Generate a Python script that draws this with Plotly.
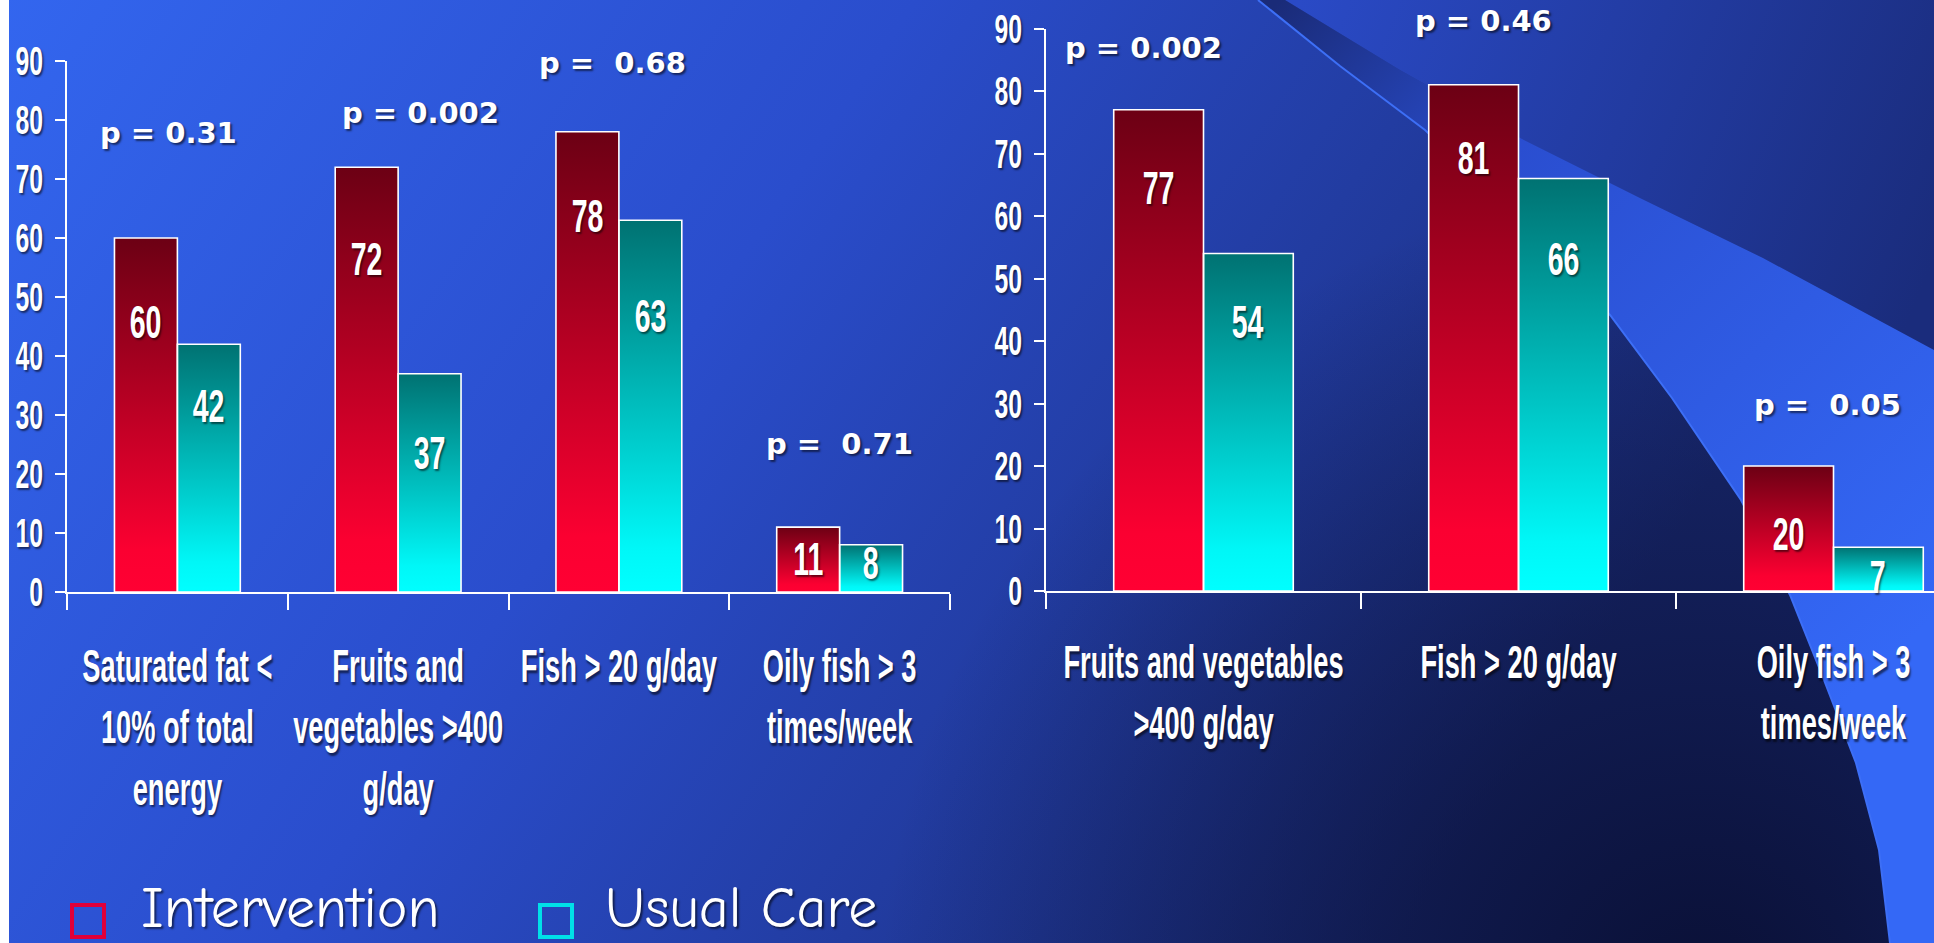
import base64
import plotly.graph_objects as go

# ---------------- data ----------------
left_categories = [
    "Saturated fat &lt;<br>10% of total<br>energy",
    "Fruits and<br>vegetables &gt;400<br>g/day",
    "Fish &gt; 20 g/day",
    "Oily fish &gt; 3<br>times/week",
]
left_intervention = [60, 72, 78, 11]
left_usual_care = [42, 37, 63, 8]
left_p_values = ["p = 0.31", "p = 0.002", "p =  0.68", "p =  0.71"]

right_categories = [
    "Fruits and vegetables<br>&gt;400 g/day",
    "Fish &gt; 20 g/day",
    "Oily fish &gt; 3<br>times/week",
]
right_intervention = [77, 81, 20]
right_usual_care = [54, 66, 7]
right_p_values = ["p = 0.002", "p = 0.46", "p =  0.05"]

y_ticks = [0, 10, 20, 30, 40, 50, 60, 70, 80, 90]
series_names = ["Intervention", "Usual Care"]

# ---------------- styling / placement ----------------
W, H = 1934, 943
NARROW = "Liberation Sans"          # compressed horizontally after rendering (see post_script)
CAT_SIZE, NUM_SIZE, YTICK_SIZE = 47, 46, 40
PFONT = "DejaVu Sans, Verdana, sans-serif"
SHADOW = "2px 2px 2px rgba(0,0,0,0.55)"
BAR_W = 0.285

RED_SCALE = [[0, "#ff0033"], [0.12, "#fb0031"], [1, "#6c0014"]]
TEAL_SCALE = [[0, "#00ffff"], [0.12, "#00f7f7"], [1, "#007272"]]

# p-value label placement (category units, axis units)
left_p_pos = [(-0.04, 77.8), (1.1, 81.2), (1.97, 89.7), (3.0, 25.1)]
right_p_pos = [(-0.19, 86.9), (0.89, 91.2), (1.98, 29.8)]
# heights at which the value labels sit inside the bars
left_label_y = ([45.7, 56.4, 63.8, 5.6], [31.6, 23.6, 46.7, 4.9])
right_label_y = ([64.5, 69.3, 9.2], [43.1, 53.2, 2.2])


def px_x(p):
    return p / W


def px_y(p):
    return 1 - p / H


left_xdom = [px_x(67), px_x(950)]
left_ydom = [px_y(592), px_y(61)]
right_xdom = [px_x(1046), 1.0]
right_ydom = [px_y(591), px_y(28.5)]
left_xr = [-0.5, 3.5]
right_xr = [-0.5, -0.5 + (W - 1046) / 315]

# ---------------- background artwork ----------------
L2 = [(1258, 0), (1340, 66), (1425, 130), (1520, 220), (1610, 315), (1672, 398),
      (1741, 500), (1790, 595), (1824, 680), (1856, 763), (1879, 850), (1890, 943)]
L1 = [(1285, 0), (1400, 70), (1524, 140), (1640, 198), (1763, 258), (1934, 350)]


def poly(points):
    return " ".join(f"L{x},{y}" for x, y in points)


band_path = f"M{L2[0][0]},{L2[0][1]} {poly(L2[1:])} L1934,943 L1934,350 {poly(L1[::-1][1:])} Z"
upper_path = f"M{L1[0][0]},{L1[0][1]} {poly(L1[1:])} L1934,0 Z"
edge_path = f"M{L2[0][0]},{L2[0][1]} {poly(L2[1:])}"

svg = f"""<svg xmlns="http://www.w3.org/2000/svg" width="{W}" height="{H}" viewBox="0 0 {W} {H}" preserveAspectRatio="none">
<defs>
<linearGradient id="base" gradientUnits="userSpaceOnUse" x1="0" y1="0" x2="1400" y2="943">
<stop offset="0" stop-color="#3366ef"/><stop offset="0.45" stop-color="#2a4dcc"/><stop offset="1" stop-color="#1a2b76"/>
</linearGradient>
<radialGradient id="shade" gradientUnits="userSpaceOnUse" cx="1700" cy="1000" r="820">
<stop offset="0" stop-color="#070b2a" stop-opacity="0.85"/><stop offset="1" stop-color="#070b2a" stop-opacity="0"/>
</radialGradient>
<linearGradient id="upper" gradientUnits="userSpaceOnUse" x1="1300" y1="0" x2="1934" y2="260">
<stop offset="0" stop-color="#2a4ac6"/><stop offset="1" stop-color="#1a2c7c"/>
</linearGradient>
<linearGradient id="band" gradientUnits="userSpaceOnUse" x1="1280" y1="0" x2="1900" y2="650">
<stop offset="0" stop-color="#1a2b78"/><stop offset="0.3" stop-color="#2a4ed0"/><stop offset="1" stop-color="#3468f6"/>
</linearGradient>
</defs>
<rect width="{W}" height="{H}" fill="url(#base)"/>
<rect width="{W}" height="{H}" fill="url(#shade)"/>
<path d="{upper_path}" fill="url(#upper)"/>
<path d="{band_path}" fill="url(#band)"/>
<path d="{edge_path}" fill="none" stroke="#3d6ff6" stroke-width="2"/>
<rect width="9" height="{H}" fill="#ffffff"/>
</svg>"""
bg_uri = "data:image/svg+xml;base64," + base64.b64encode(svg.encode()).decode()

# ---------------- figure ----------------
fig = go.Figure()

panels = [
    dict(xa="x", ya="y", xo="x3", yo="y3", cats=left_categories, ydom=left_ydom,
         vals=(left_intervention, left_usual_care), p=left_p_values, ppos=left_p_pos,
         lab=left_label_y),
    dict(xa="x2", ya="y2", xo="x4", yo="y4", cats=right_categories, ydom=right_ydom,
         vals=(right_intervention, right_usual_care), p=right_p_values, ppos=right_p_pos,
         lab=right_label_y),
]

annotations = []
for pnl in panels:
    n = len(pnl["cats"])
    for s, (vals, scale, off) in enumerate(zip(pnl["vals"], (RED_SCALE, TEAL_SCALE), (-BAR_W, 0.0))):
        # gradient body of every bar
        for i, v in enumerate(vals):
            x0, x1 = i + off, i + off + BAR_W
            fig.add_trace(go.Scatter(
                x=[x0, x0, x1, x1, x0], y=[0, v, v, 0, 0], mode="lines", fill="toself",
                fillgradient=dict(type="vertical", colorscale=scale),
                line=dict(width=0), hoverinfo="skip", showlegend=False,
                xaxis=pnl["xa"], yaxis=pnl["ya"]))
        # the bars themselves, outlined in white on top of the gradients
        fig.add_trace(go.Bar(
            x=list(range(n)), y=vals, width=BAR_W, offset=off, name=series_names[s],
            marker=dict(color="rgba(0,0,0,0)", line=dict(color="white", width=1.6)),
            showlegend=False, xaxis=pnl["xo"], yaxis=pnl["yo"]))
        for i, v in enumerate(vals):
            annotations.append(dict(
                x=i + off + BAR_W / 2, y=pnl["lab"][s][i], xref=pnl["xa"], yref=pnl["ya"],
                text=str(v), showarrow=False, xanchor="center", yanchor="middle",
                font=dict(family=NARROW, size=NUM_SIZE, color="white", weight="bold", shadow=SHADOW)))
    d0, d1 = pnl["ydom"]
    for txt, (px, py) in zip(pnl["p"], pnl["ppos"]):
        annotations.append(dict(
            x=px, y=d0 + (d1 - d0) * py / 90, xref=pnl["xa"], yref="paper", text=txt,
            showarrow=False, xanchor="center", yanchor="middle",
            font=dict(family=PFONT, size=29, color="white", weight="bold", shadow=SHADOW)))

# legend drawn as outlined squares with labels along the bottom
legend_items = [
    (series_names[0], "#e0003a", 72, 140),
    (series_names[1], "#00e0e8", 540, 604),
]
shapes = []
for name, col, sx, tx in legend_items:
    shapes.append(dict(type="rect", xref="paper", yref="paper",
                       x0=px_x(sx), x1=px_x(sx + 32), y0=px_y(937), y1=px_y(905),
                       line=dict(color=col, width=4), fillcolor="rgba(0,0,0,0)"))
    annotations.append(dict(x=px_x(tx), y=0, xref="paper", yref="paper", text=name,
                            showarrow=False, xanchor="left", yanchor="bottom", borderpad=0,
                            font=dict(family="Comic Sans MS, Comic Neue, Lato, sans-serif",
                                      size=58, color="white", shadow=SHADOW)))


def x_axis(n, rng, domain, labels, anchor, standoff):
    return dict(domain=domain, range=rng, anchor=anchor, tickmode="array", automargin=False,
                tickvals=list(range(n)), ticktext=labels, ticks="", showgrid=False,
                zeroline=False, showline=True, linecolor="white", linewidth=2,
                tickangle=0, ticklabelstandoff=standoff, ticklabeloverflow="allow",
                tickfont=dict(family=NARROW, size=CAT_SIZE, color="white", weight="bold", shadow=SHADOW),
                minor=dict(tickmode="array", tickvals=[i - 0.5 for i in range(n + 1)],
                           ticks="outside", ticklen=16, tickwidth=2, tickcolor="white",
                           showgrid=False),
                fixedrange=True)


def y_axis(domain, anchor):
    return dict(domain=domain, range=[0, 90], anchor=anchor, tickmode="array", automargin=False,
                tickvals=y_ticks, ticks="outside", ticklen=10, tickwidth=2, tickcolor="white",
                showgrid=False, zeroline=False, showline=True, linecolor="white", linewidth=2,
                ticklabelstandoff=4, ticklabeloverflow="allow",
                tickfont=dict(family=NARROW, size=YTICK_SIZE, color="white", weight="bold", shadow=SHADOW),
                fixedrange=True)


def hidden(over, dom, rng, anchor):
    return dict(overlaying=over, domain=dom, range=rng, anchor=anchor, visible=False,
                automargin=False, fixedrange=True)


fig.update_layout(
    template="none",
    width=W, height=H, margin=dict(l=0, r=0, t=0, b=0, pad=0, autoexpand=False),
    paper_bgcolor="#2a4cc8", plot_bgcolor="rgba(0,0,0,0)",
    barmode="overlay", showlegend=False,
    xaxis=x_axis(4, left_xr, left_xdom, left_categories, "y", 32),
    yaxis=y_axis(left_ydom, "x"),
    xaxis2=x_axis(3, right_xr, right_xdom, right_categories, "y2", 29),
    yaxis2=y_axis(right_ydom, "x2"),
    xaxis3=hidden("x", left_xdom, left_xr, "y3"),
    yaxis3=hidden("y", left_ydom, [0, 90], "x3"),
    xaxis4=hidden("x2", right_xdom, right_xr, "y4"),
    yaxis4=hidden("y2", right_ydom, [0, 90], "x4"),
    annotations=annotations, shapes=shapes,
    images=[dict(source=bg_uri, xref="paper", yref="paper", x=0, y=1, sizex=1, sizey=1,
                 xanchor="left", yanchor="top", sizing="stretch", layer="below")],
)

# Narrow-lettered labels: compress the bold face horizontally around each text anchor.
post_js = """
var gd = document.getElementById('{plot_id}');
function squeezeText() {
  gd.querySelectorAll('text').forEach(function (t) {
    var ff = t.style.fontFamily || '';
    if (ff.indexOf('Liberation Sans') < 0) return;
    var tr = t.getAttribute('transform') || '';
    if (tr.indexOf('scale(') >= 0) return;
    var k = (t.style.fontSize === 'CATpx') ? 0.58 : 0.62;
    var x = parseFloat(t.getAttribute('x')) || 0;
    var y = parseFloat(t.getAttribute('y')) || 0;
    t.setAttribute('transform', tr + ' translate(' + x + ',' + y + ') scale(' + k + ',1) translate(' + (-x) + ',' + (-y) + ')');
  });
}
squeezeText();
gd.on('plotly_afterplot', squeezeText);
""".replace("CAT", str(CAT_SIZE))

fig.write_html("out.html", config={"displayModeBar": False}, post_script=post_js)
